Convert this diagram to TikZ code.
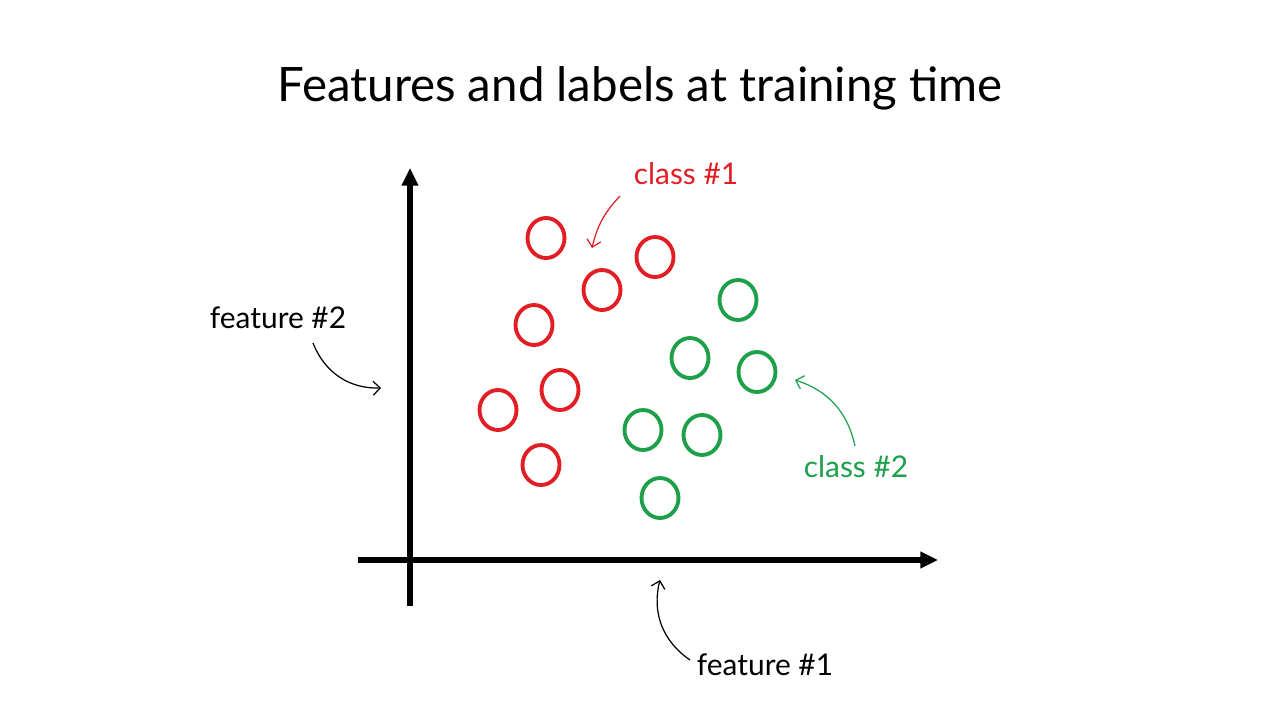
\documentclass[tikz,border=0pt]{standalone}
\usepackage{fontspec}
\setmainfont{Lato}
\usetikzlibrary{arrows.meta,shapes.geometric}
\definecolor{myred}{RGB}{225,30,35}
\definecolor{mygreen}{RGB}{30,160,75}
\tikzset{
 axis/.style={line width=3pt,-{Triangle[length=10pt,width=9pt]}},
 dot/.style={ellipse,draw,line width=2.2pt,minimum width=0.74cm,minimum height=0.8cm,inner sep=0},
 rdot/.style={dot,draw=myred},
 gdot/.style={dot,draw=mygreen},
 lab/.style={font=\fontsize{17}{20}\selectfont},
 thin/.style={line width=0.7pt,-{Straight Barb[length=4pt]}}
}
\begin{document}
\begin{tikzpicture}[x=0.02cm,y=-0.02cm]
\useasboundingbox (0,0) rectangle (1280,720);
\node (title) at (640,88) {\fontsize{27}{32}\selectfont Features and labels at training time};
\coordinate (yb) at (410,606); \coordinate (yt) at (410,168);
\coordinate (xl) at (358,560); \coordinate (xr) at (938,560);
\draw[axis] (yb) -- (yt);
\draw[axis] (xl) -- (xr);
\foreach \n/\x/\y in {r1/546/238,r2/602/290,r3/655/257,r4/534/325,r5/560/390,r6/498/410,r7/541/465}
  \node[rdot] (\n) at (\x,\y) {};
\foreach \n/\x/\y in {g1/738/300,g2/690/358,g3/757/372,g4/643/430,g5/702/435,g6/660/498}
  \node[gdot] (\n) at (\x,\y) {};
\node[lab,text=myred] (c1) at (686,174) {class \#1};
\coordinate (c1e) at (592,248);
\draw[thin,draw=myred] (620,196) to[bend right=15] (c1e);
\node[lab,text=mygreen] (c2) at (856,467) {class \#2};
\coordinate (c2e) at (795,380);
\draw[thin,draw=mygreen] (855,446) to[bend right=30] (c2e);
\node[lab] (f2) at (278,318) {feature \#2};
\coordinate (f2e) at (381,388);
\draw[thin] (313,343) to[bend right=35] (f2e);
\node[lab] (f1) at (765,665) {feature \#1};
\coordinate (f1e) at (660,580);
\draw[thin] (690,660) to[bend left=35] (f1e);
\end{tikzpicture}
\end{document}
